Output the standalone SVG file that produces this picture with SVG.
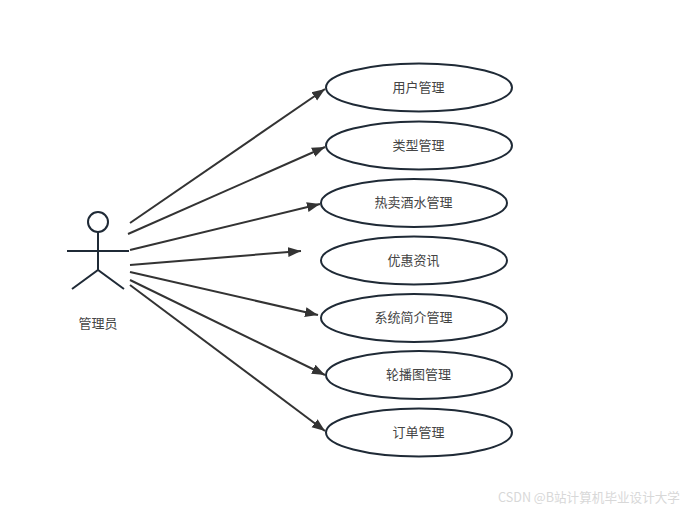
<svg xmlns="http://www.w3.org/2000/svg" width="688" height="512" viewBox="0 0 688 512">
<defs>
<marker id="arrow" markerUnits="userSpaceOnUse" markerWidth="14" markerHeight="12" refX="13" refY="5" orient="auto" viewBox="0 0 14 10"><path d="M0 0L13 5L0 10Z" fill="#333"/></marker>
</defs>
<style>
text{font-family:"Noto Sans CJK SC","Liberation Sans",sans-serif;font-size:13px;fill:#444;text-anchor:middle}
.u ellipse{fill:#fff;stroke:#1f2a36;stroke-width:2}
.c line{stroke:#333;stroke-width:2;marker-end:url(#arrow)}
.a *{fill:none;stroke:#1f2a36;stroke-width:2}
</style>
<rect width="688" height="512" fill="#fff"/>
<g id="connectors" class="c">
<line x1="130" y1="223" x2="325" y2="89"/>
<line x1="128" y1="234" x2="325" y2="147"/>
<line x1="130" y1="250" x2="320" y2="204"/>
<line x1="130" y1="265" x2="301" y2="251"/>
<line x1="130" y1="272" x2="318" y2="315"/>
<line x1="130" y1="280" x2="325" y2="375"/>
<line x1="130" y1="285" x2="325" y2="431"/>
</g>
<g id="actor" class="a">
<circle cx="98" cy="222" r="10"/>
<path d="M98 232V270M67 251H129M72 289L98 270L124 289"/>
</g>
<text id="actor-label" x="98" y="327.500">管理员</text>
<g id="n1" class="u"><ellipse cx="419" cy="87.500" rx="93" ry="24"/><text x="418.500" y="92">用户管理</text></g>
<g id="n2" class="u"><ellipse cx="419" cy="145.500" rx="93" ry="24"/><text x="418.500" y="150">类型管理</text></g>
<g id="n3" class="u"><ellipse cx="414" cy="203" rx="93" ry="24"/><text x="413.500" y="207">热卖酒水管理</text></g>
<g id="n4" class="u"><ellipse cx="414" cy="260.500" rx="93" ry="24"/><text x="413.500" y="264.500">优惠资讯</text></g>
<g id="n5" class="u"><ellipse cx="414" cy="318" rx="93" ry="24"/><text x="413.500" y="322">系统简介管理</text></g>
<g id="n6" class="u"><ellipse cx="419" cy="375" rx="93" ry="24"/><text x="418.500" y="379">轮播图管理</text></g>
<g id="n7" class="u"><ellipse cx="419" cy="432.500" rx="93" ry="24"/><text x="418.500" y="436.500">订单管理</text></g>
<text id="watermark" x="589" y="502" style="font-size:12.600px;fill:#d8d8d8">CSDN @B站计算机毕业设计大学</text>
</svg>
